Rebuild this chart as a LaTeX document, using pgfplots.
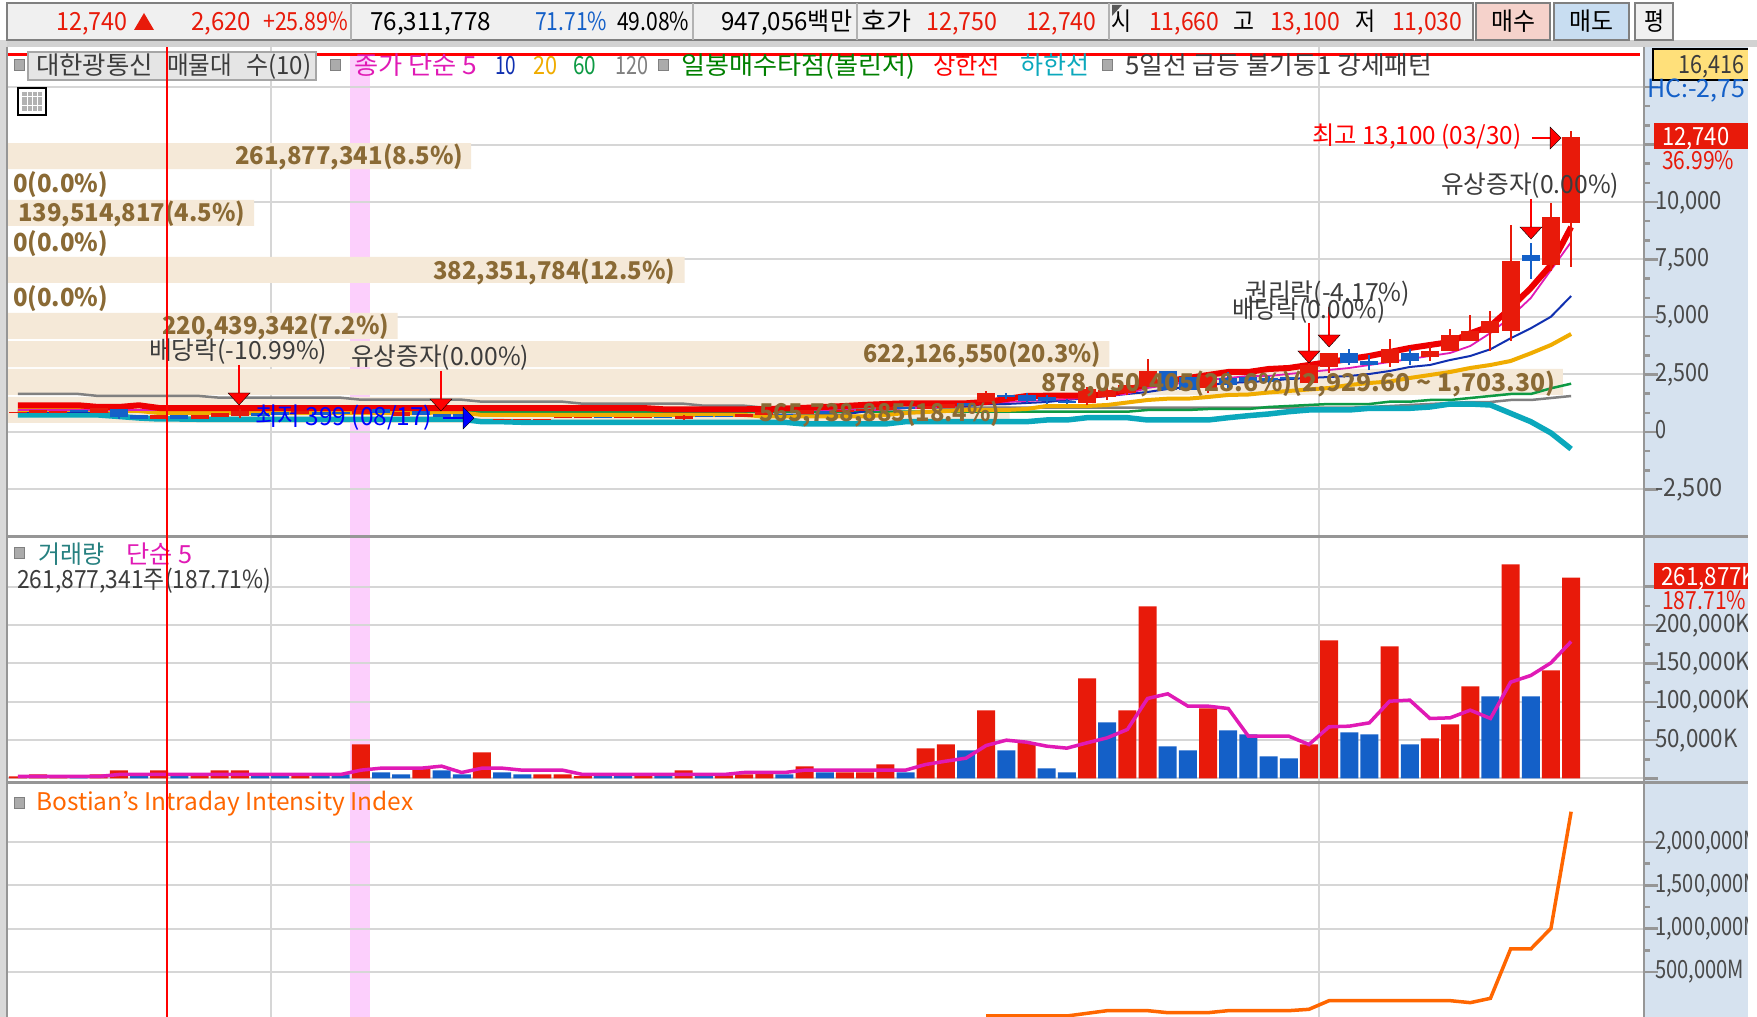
\documentclass[border=0pt]{standalone}
\usepackage{pgfplots}
\usepackage{pgfplotstable}
\usepackage{graphicx}
\usepackage{fontspec}
\setmainfont{Noto Sans CJK KR}
\pgfplotsset{compat=1.18}
\definecolor{cr}{HTML}{E81A0A}
\definecolor{cb}{HTML}{1460C8}
\definecolor{uband}{HTML}{EE0000}
\definecolor{teal1}{HTML}{0BA8BC}
\definecolor{org}{HTML}{F0AC00}
\definecolor{navy1}{HTML}{1030B0}
\definecolor{mag}{HTML}{E01AB5}
\definecolor{grn}{HTML}{0E9A44}
\definecolor{gry}{HTML}{808080}
\definecolor{gridc}{HTML}{D6D6D6}
\definecolor{beige}{HTML}{F5E9D8}
\definecolor{brn}{HTML}{8A6A35}
\definecolor{dk}{HTML}{3C3C3C}
\definecolor{tick}{HTML}{4A4A4A}
\definecolor{pane}{HTML}{D6E2EF}
\definecolor{pink}{HTML}{FCCFFC}
\definecolor{sep}{HTML}{969696}
\definecolor{orgl}{HTML}{FF6600}
\definecolor{btnr}{HTML}{F5D2CB}
\definecolor{btnb}{HTML}{C8DDF1}
\definecolor{tbar}{HTML}{F0F0F0}
\definecolor{yel}{HTML}{FFE07A}
\newcommand\TX[5]{\node[anchor=west,inner sep=0pt,text=#4] at (#1,#2) {\resizebox*{#3pt}{30pt}{\rule[-.2em]{0pt}{1.2em}#5}};}
\newcommand\TB[4]{\node[anchor=west,inner sep=0pt,text=brn] at (#1,#2) {\resizebox*{#3pt}{30pt}{\rule[-.2em]{0pt}{1.2em}\bfseries #4}};}
\newcommand\TL[2]{\resizebox*{#1pt}{30pt}{\rule[-.2em]{0pt}{1.2em}#2}}
\newcommand\SQ[2]{\fill[fill=sep!80!white,draw=gry,line width=1pt] (#1,#2) rectangle ++(10,11);}

% i, upper band, MA20, MA60, MA120, lower band, MA10, MA5
\pgfplotstableread{
i up or gr gy te na ma
0 1161 957 883 1652 739 870 957
1 1161 957 883 1652 739 870 957
2 1161 957 883 1652 739 870 957
3 1161 957 883 1652 739 870 957
4 1087 957 883 1565 739 870 957
5 1087 913 883 1565 674 870 957
6 1161 913 883 1565 609 870 957
7 1043 826 883 1565 565 870 957
8 1043 826 883 1565 565 870 957
9 1043 826 883 1565 552 870 957
10 1043 826 883 1491 552 870 957
11 1043 826 883 1491 552 870 957
12 1043 826 883 1491 552 870 957
13 1043 826 883 1491 552 870 957
14 1043 826 883 1491 552 870 957
15 1043 826 883 1491 552 870 957
16 1043 826 883 1491 552 870 957
17 1043 826 883 1404 552 870 957
18 1043 826 883 1404 552 870 957
19 1043 826 883 1404 552 870 957
20 1043 826 883 1404 552 870 957
21 1043 848 883 1404 552 870 957
22 1043 848 883 1404 552 870 957
23 1043 739 883 1317 448 739 957
24 1043 739 883 1317 448 739 957
25 1043 739 883 1317 422 739 957
26 1043 739 883 1317 422 739 957
27 1043 739 883 1317 422 739 957
28 1043 739 883 1230 422 739 957
29 1043 739 883 1230 422 739 957
30 1043 739 883 1230 422 739 957
31 1043 739 883 1230 422 739 957
32 987 739 883 1230 422 739 957
33 987 739 883 1230 422 739 957
34 987 739 883 1143 422 739 957
35 987 739 883 1143 422 739 957
36 987 739 883 1143 422 739 957
37 1000 674 883 1057 422 760 957
38 1020 674 883 1057 422 760 957
39 1050 674 883 1057 348 760 957
40 1090 674 883 1057 348 760 957
41 1130 674 883 1057 348 760 957
42 1180 674 883 1057 348 900 957
43 1217 739 883 1057 348 1000 957
44 1248 826 883 1057 448 1043 1043
45 1248 870 883 1057 448 1087 1043
46 1248 913 883 1057 448 1130 1100
47 1248 957 883 1057 448 1130 1180
48 1304 957 883 1057 448 1217 1261
49 1435 957 883 1057 448 1217 1304
50 1565 1000 883 1057 448 1261 1348
51 1578 1130 883 1057 522 1304 1391
52 1578 1130 883 1057 522 1391 1435
53 1578 1130 883 1057 622 1478 1478
54 1652 1174 883 1057 622 1565 1578
55 1826 1283 883 1057 622 1652 1665
56 2087 1391 957 1057 522 1739 1913
57 2217 1448 957 1057 522 1870 2043
58 2348 1448 957 1057 522 1957 2174
59 2478 1522 1000 1057 522 2043 2261
60 2609 1609 1000 1057 622 2130 2348
61 2609 1630 1000 1057 709 2174 2435
62 2739 1717 1087 1057 783 2217 2435
63 2783 1783 1130 1057 883 2304 2522
64 2913 1848 1174 1057 957 2348 2609
65 3044 1913 1217 1057 957 2391 2696
66 3174 2044 1217 1057 957 2435 2783
67 3304 2130 1217 1087 1030 2522 2913
68 3478 2196 1317 1130 1030 2652 3043
69 3652 2348 1317 1174 1030 2826 3174
70 3783 2478 1391 1217 1087 2913 3304
71 3913 2609 1391 1261 1217 3130 3435
72 4291 2783 1478 1304 1217 3304 3739
73 4609 2913 1565 1304 1174 3596 4304
74 5392 3087 1652 1391 813 4074 5000
75 6261 3422 1652 1391 448 4509 5826
76 7261 3783 1900 1478 -43 5013 7043
77 8913 4261 2100 1565 -739 5913 8261
}\maT

\pgfplotstableread{
i lo hi
0 860 880
1 842 957
2 842 930
4 842 1030
7 566 740
9 566 740
10 668 827
11 697 914
14 790 900
17 800 950
19 700 850
24 520 580
25 520 580
26 520 580
27 595 655
28 595 655
30 595 655
31 595 655
33 566 711
36 668 769
37 760 850
39 800 950
41 850 950
42 900 1000
43 950 1100
45 1000 1150
46 1050 1200
48 1317 1683
53 1247 1870
54 1536 1826
55 1681 2043
56 1971 2652
59 1899 2478
64 2117 2914
65 2841 3450
68 2986 3609
70 3276 3522
71 3537 4218
72 3959 4393
73 4306 4828
74 4408 7436
76 7262 9349
77 9088 12827
}\rbody
\pgfplotstableread{
i lo hi
3 850 960
5 668 987
6 566 740
8 566 740
12 700 820
13 760 870
15 760 870
16 780 880
18 813 987
20 740 913
21 660 800
22 640 780
29 595 655
32 595 655
34 640 700
35 640 700
38 720 800
40 800 900
44 1000 1100
47 1150 1280
49 1507 1609
50 1362 1609
51 1362 1507
52 1275 1362
57 1826 2652
58 1826 2406
60 2043 2333
61 2189 2407
62 2189 2334
63 2300 2400
66 2986 3450
67 2914 3102
69 3102 3450
75 7451 7697
}\bbody
\pgfplotstableread{
i lo hi
11 600 1000
33 540 760
48 1317 1783
53 1174 1971
54 1400 1971
55 1600 2188
56 1971 3174
59 1710 2600
64 2045 3000
65 2552 3450
68 2841 4044
70 3102 3783
71 3537 4479
72 3973 5089
73 3538 5263
74 3973 9001
76 7016 9957
77 7190 13100
}\rwick
\pgfplotstableread{
i lo hi
5 560 987
49 1420 1710
50 1247 1710
51 1218 1609
52 1218 1420
60 1826 2623
62 2100 2450
66 2914 3609
67 2696 3348
69 2914 3609
75 6654 8204
}\bwick

% volume (thousand shares)
\pgfplotstableread{
i v
0 2608
1 5215
2 3042
4 5215
5 10430
7 10430
9 5215
10 10430
11 10430
14 5215
17 44329
20 13038
23 33899
26 5215
27 5215
28 3042
31 3042
33 10430
35 3911
36 5215
37 7823
39 15646
41 7823
42 7823
43 18253
45 39114
46 44329
48 88658
50 46937
53 130380
55 88658
56 224254
59 91266
64 44329
65 179924
68 172102
70 52152
71 70405
72 119950
74 279013
76 140810
77 261877
}\volR
\pgfplotstableread{
i v
3 3042
6 5215
8 5215
12 5215
13 5215
15 5215
16 5215
18 7823
19 5215
21 10430
22 5215
24 7823
25 5215
29 3042
30 3042
32 3042
34 3911
38 5215
40 7823
44 7823
47 36506
49 36506
51 13038
52 7823
54 73013
57 41722
58 36506
60 62582
61 57367
62 28684
63 26076
66 59975
67 57367
69 44329
73 106912
75 106912
}\volB

\pgfplotsset{
  cdl/.style n args={2}{draw=none,mark=none,error bars/.cd,y dir=plus,y explicit,error mark=none,error bar style={line width=#1pt,draw=#2,solid}},
  panel/.style={scale only axis,width=1637pt,xmin=-0.545,xmax=80.61,clip=true,
    axis line style={draw=none},xticklabels={},x tick style={draw=none},
    xtick pos=bottom,ytick pos=right,yticklabel pos=right,
    y tick style={draw=sep,line width=2.5pt},
    tick align=outside,major tick length=14pt,minor tick length=6pt,
    yticklabel style={anchor=west,inner sep=0pt,xshift=-3pt,yshift=3pt,text=tick},
    scaled y ticks=false},
}
\begin{document}
\begin{tikzpicture}
\path[use as bounding box] (0pt,0pt) rectangle (1757pt,1017pt);
\begin{scope}[x=1pt,y=-1pt,yshift=1017pt]
\fill[white] (0,0) rectangle (1757,1017);
\fill[gray!35] (0,40) rectangle (1757,47);
\fill[gray!30] (0,40) rectangle (7,1017);
\fill[white] (7,47) rectangle (1644,1017);
\fill[pane] (1644,47) rectangle (1748,1017);
\fill[pink] (350,53) rectangle (370,1017);
\end{scope}

% grid and the bars of the volume-at-price profile
\begin{axis}[scale only axis,at={(7pt,481pt)},anchor=south west,width=1637pt,height=489pt,
  xmin=0,xmax=923800000,ymin=-4522,ymax=16740,clip=true,
  axis line style={draw=none},tick style={draw=none},
  xticklabels={},yticklabels={},scaled x ticks=false,scaled y ticks=false,
  xtick={148984000,740406000},ytick={-2500,0,2500,5000,7500,10000,12500,15000},
  grid=major,grid style={draw=gridc,line width=2pt}]
\addplot[xbar,bar shift=0pt,bar width=26pt,fill=beige,draw=none] table {
v y
261877341 12000
0 10783
139514817 9522
0 8304
382351784 7044
0 5826
220439342 4609
622126550 3391
878050405 2174
565738885 957
};
\end{axis}

% price panel
\begin{axis}[panel,at={(7pt,481pt)},anchor=south west,height=489pt,ymin=-4522,ymax=16740,
  xtick={},ytick={-2500,0,2500,5000,7500,10000,12500,15000},minor y tick num=2,
  yticklabels={{\TL{67}{-2,500}},{\TL{11}{0}},{\TL{54}{2,500}},{\TL{54}{5,000}},{\TL{54}{7,500}},{\TL{67}{10,000}},{},{}}]
\addplot[gry,line width=2.5pt] table[x=i,y=gy] {\maT};
\addplot[grn,line width=2.5pt] table[x=i,y=gr] {\maT};
\addplot[teal1,line width=5.5pt] table[x=i,y=te] {\maT};
\addplot[navy1,line width=2pt] table[x=i,y=na] {\maT};
\addplot[org,line width=4pt] table[x=i,y=or] {\maT};
\addplot[mag,line width=1.8pt] table[x=i,y=ma] {\maT};
\addplot[uband,line width=6pt] table[x=i,y=up] {\maT};
\addplot[cdl={2}{cr}] table[x=i,y=lo,y error plus expr=\thisrow{hi}-\thisrow{lo}] {\rwick};
\addplot[cdl={2}{cb}] table[x=i,y=lo,y error plus expr=\thisrow{hi}-\thisrow{lo}] {\bwick};
\addplot[cdl={18}{cr}] table[x=i,y=lo,y error plus expr=\thisrow{hi}-\thisrow{lo}] {\rbody};
\addplot[cdl={18}{cb}] table[x=i,y=lo,y error plus expr=\thisrow{hi}-\thisrow{lo}] {\bbody};
% upper limit line of the day
\addplot[red,line width=2.5pt] coordinates {(-0.545,16416)(80.4,16416)};
% event arrows
\addplot[red,line width=2.5pt] coordinates {(10.96,2913)(10.96,1696)};
\addplot[red,line width=2.5pt] coordinates {(20.97,2652)(20.97,1435)};
\addplot[red,line width=2.5pt] coordinates {(64,4739)(64,3522)};
\addplot[red,line width=2.5pt] coordinates {(65,5435)(65,4217)};
\addplot[red,line width=2.5pt] coordinates {(75.01,10131)(75.01,8913)};
\addplot[only marks,mark=triangle*,mark size=12.7pt,mark options={fill=red,draw=none,yscale=-0.63}] coordinates {(10.96,1522)(20.97,1261)(64,3348)(65,4044)(75.01,8739)};
\addplot[red,line width=2.5pt] coordinates {(75.06,12783)(75.95,12783)};
\addplot[only marks,mark=triangle*,mark size=12.7pt,mark options={fill=red,draw=none,rotate=-90,yscale=0.58}] coordinates {(76.14,12783)};
\addplot[blue,line width=2.5pt] coordinates {(21.07,609)(22.07,609)};
\addplot[only marks,mark=triangle*,mark size=12.7pt,mark options={fill=blue,draw=none,rotate=-90,yscale=0.58}] coordinates {(22.25,609)};
\end{axis}

% volume panel
\begin{axis}[panel,at={(7pt,235pt)},anchor=south west,height=246pt,ymin=-4563,ymax=316167,
  xtick={12.54,64.5},ytick={0,50000,100000,150000,200000,250000},minor y tick num=1,
  grid=major,grid style={draw=gridc,line width=2pt},
  yticklabels={{},{\TL{82.5}{50,000K}},{\TL{95}{100,000K}},{\TL{95}{150,000K}},{\TL{95}{200,000K}},{}}]
\addplot[ybar,bar width=18pt,bar shift=0pt,fill=cr,draw=none] table[x=i,y=v] {\volR};
\addplot[ybar,bar width=18pt,bar shift=0pt,fill=cb,draw=none] table[x=i,y=v] {\volB};
\addplot[mag,line width=3.5pt] table {
i v
0 2608
4 2608
5 5215
16 5215
17 10865
18 13473
19 13473
20 13473
21 16080
22 7823
23 13473
24 13473
25 10865
26 10865
27 10865
28 5215
35 5215
36 7823
38 7823
39 10865
44 10865
45 18253
46 22599
47 26511
48 43025
49 49979
50 47371
51 42156
52 39549
53 46502
54 53021
55 63886
56 104304
57 110388
58 94308
59 94308
60 91266
61 55194
62 55194
63 55194
64 44329
65 67363
66 68232
67 72578
68 100827
69 102131
70 78228
71 79097
72 89093
73 78228
74 125599
75 134291
76 150806
77 178621
};
\end{axis}

% intensity panel
\begin{axis}[panel,at={(7pt,0pt)},anchor=south west,height=235pt,ymin=-19630,ymax=2694000,
  xtick={12.54,64.5},ytick={500000,1000000,1500000,2000000},minor y tick num=1,
  grid=major,grid style={draw=gridc,line width=2pt},
  yticklabels={{\TL{89}{500,000M}},{\TL{105}{1,000,000M}},{\TL{105}{1,500,000M}},{\TL{105}{2,000,000M}}}]
\addplot[orgl,line width=3.5pt] table {
i v
48 -8000
52 -8000
53 22800
54 53500
55 53500
56 53500
57 30400
58 30400
59 30400
60 53500
61 53500
62 53500
63 53500
64 69000
65 169000
66 169000
71 169000
72 146000
73 196000
74 765700
75 765700
76 1004000
77 2351000
};
\end{axis}

\begin{scope}[x=1pt,y=-1pt,yshift=1017pt]
% toolbar
\fill[tbar,draw=gry,line width=2.5pt] (7,3) rectangle (1473,40);
\foreach \s in {351,693,857,1109} \draw[gray!60,line width=2pt] (\s,3) -- (\s,40);
\fill[btnr,draw=gry,line width=2pt] (1476,3) rectangle (1550,40);
\fill[btnb,draw=gry,line width=2pt] (1554,3) rectangle (1629,40);
\fill[tbar,draw=gry,line width=2pt] (1635,3) rectangle (1673,40);
\TX{56}{21}{71}{cr}{12,740}
\fill[cr] (134,30) -- (144,13) -- (154,30) -- cycle;
\TX{191}{21}{60}{cr}{2,620}
\TX{263}{21}{85}{cr}{+25.89\%}
\TX{370}{21}{121}{black}{76,311,778}
\TX{535}{21}{72}{cb}{71.71\%}
\TX{617}{21}{72}{black}{49.08\%}
\TX{721}{21}{131}{black}{947,056백만}
\TX{861}{21}{50}{black}{호가}
\TX{926}{21}{71}{cr}{12,750}
\TX{1026}{21}{70}{cr}{12,740}
\fill[gray!70!black] (1112,5) -- (1122,5) -- (1112,16) -- cycle;
\TX{1111}{21}{20}{black}{시}
\TX{1149}{21}{70}{cr}{11,660}
\TX{1233}{21}{21}{black}{고}
\TX{1270}{21}{70}{cr}{13,100}
\TX{1355}{21}{20}{black}{저}
\TX{1392}{21}{70}{cr}{11,030}
\TX{1491}{21}{44}{black}{매수}
\TX{1569}{21}{44}{black}{매도}
\TX{1644}{21}{20}{black}{평}
% legend row
\SQ{14}{60}
\fill[gray!20,draw=gray!70,line width=2pt] (28,52) rectangle (316,80);
\TX{36}{65}{117}{dk}{대한광통신}
\TX{167}{65}{65}{dk}{매물대}
\TX{246}{65}{65}{dk}{수(10)}
\SQ{330}{60}
\TX{354}{65}{123}{mag}{종가 단순 5}
\TX{495}{65}{21}{navy1}{10}
\TX{533}{65}{24}{org}{20}
\TX{573}{65}{23}{grn}{60}
\TX{615}{65}{33}{gry}{120}
\SQ{658}{60}
\TX{681}{65}{234}{green!50!black}{일봉매수타점(볼린저)}
\TX{933}{65}{67}{red}{상한선}
\TX{1020}{65}{69}{teal1}{하한선}
\SQ{1102}{60}
\TX{1125}{65}{307}{dk}{5일선 급등 불기둥1 강세패턴}
% table icon
\fill[white,draw=black,line width=2pt] (18,88) rectangle (46,115);
\fill[gray!60] (22,92) rectangle (42,111);
\foreach \s in {27,32,37} \draw[white,line width=1pt] (\s,92) -- (\s,111);
\draw[white,line width=1pt] (22,97) -- (42,97);
\draw[white,line width=1pt] (22,106) -- (42,106);
% profile labels
\TB{235}{155}{228}{261,877,341(8.5\%)}
\TB{13}{183}{95}{0(0.0\%)}
\TB{18}{212}{227}{139,514,817(4.5\%)}
\TB{13}{242}{95}{0(0.0\%)}
\TB{433}{270}{242}{382,351,784(12.5\%)}
\TB{13}{297}{95}{0(0.0\%)}
\TB{162}{325}{227}{220,439,342(7.2\%)}
\TB{863}{353}{238}{622,126,550(20.3\%)}
\TB{1041}{382}{514}{878,050,405(28.6\%)(2,929.60 \char`~{} 1,703.30)}
\TB{759}{412}{241}{565,738,885(18.4\%)}
% event labels
\TX{149}{350}{178}{dk}{배당락(-10.99\%)}
\TX{351}{356}{178}{dk}{유상증자(0.00\%)}
\TX{255}{416}{177}{blue}{최저 399 (08/17)}
\TX{1312}{135}{209}{red}{최고 13,100 (03/30)}
\TX{1441}{184}{178}{dk}{유상증자(0.00\%)}
\TX{1245}{292}{165}{dk}{권리락(-4.17\%)}
\TX{1232}{309}{153}{dk}{배당락(0.00\%)}
% panel frames
\draw[sep,line width=2.5pt] (1644,47) -- (1644,1017);
\draw[sep,line width=3pt] (7,537) -- (1748,537);
\draw[sep,line width=3pt] (7,783) -- (1748,783);
\draw[sep,line width=2pt] (7,47) -- (7,1017);
% right hand boxes
\fill[yel,draw=black,line width=1.5pt] (1653,49) rectangle (1752,80);
\TX{1678}{64}{66}{dk}{16,416}
\TX{1647}{88}{98}{cb}{HC:-2,75}
\fill[cr] (1654,123) rectangle (1748,149);
\TX{1662}{136}{67}{white}{12,740}
\TX{1662}{160}{72}{cr}{36.99\%}
\fill[cr] (1654,563) rectangle (1748,589);
\TX{1661}{576}{95}{white}{261,877K}
\TX{1662}{600}{84}{cr}{187.71\%}
% sub panel captions
\SQ{14}{548}
\TX{38}{554}{66}{teal!70!gray}{거래량}
\TX{126}{554}{66}{mag}{단순 5}
\TX{17}{579}{254}{dk}{261,877,341주(187.71\%)}
\SQ{14}{798}
\TX{36}{801}{377}{orgl}{Bostian's Intraday Intensity Index}
% cover of the clipped right edge
\fill[white] (1748,47) rectangle (1757,1017);
\fill[gray!35] (1748,40) rectangle (1757,47);
% cursor
\draw[red,line width=1.6pt] (167,47) -- (167,1017);
\end{scope}
\end{tikzpicture}
\end{document}
